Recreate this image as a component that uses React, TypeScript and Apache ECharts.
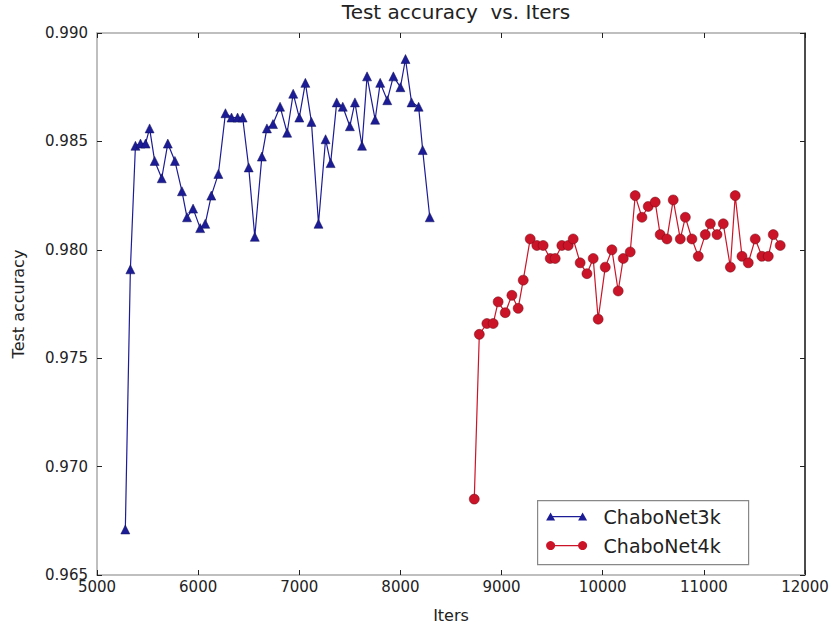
import React, { useEffect, useRef } from "react";
import * as echarts from "echarts";

const TITLE = "Test accuracy  vs. Iters";
const X_NAME = "Iters";
const Y_NAME = "Test accuracy";
const SERIES_NAMES = ["ChaboNet3k", "ChaboNet4k"];

// ChaboNet3k
const blueIters = [
  5280, 5330, 5380, 5430, 5480, 5520, 5570, 5640, 5700, 5770,
  5840, 5890, 5950, 6020, 6070, 6130, 6200, 6270, 6330, 6390,
  6440, 6500, 6560, 6630, 6680, 6740, 6810, 6880, 6940, 7000,
  7060, 7120, 7190, 7260, 7310, 7370, 7430, 7500, 7550, 7620,
  7670, 7750, 7800, 7870, 7930, 8000, 8050, 8110, 8180, 8220,
  8290,
];
const blueAcc = [
  0.9671, 0.9791, 0.9848, 0.9849, 0.9849, 0.9856, 0.9841, 0.9833, 0.9849, 0.9841,
  0.9827, 0.9815, 0.9819, 0.981, 0.9812, 0.9825, 0.9835, 0.9863, 0.9861, 0.9861,
  0.9861, 0.9838, 0.9806, 0.9843, 0.9856, 0.9858, 0.9866, 0.9854, 0.9872, 0.9861,
  0.9877, 0.9859, 0.9812, 0.9851, 0.984, 0.9868, 0.9866, 0.9857, 0.9868, 0.9848,
  0.988, 0.986, 0.9877, 0.9869, 0.988, 0.9875, 0.9888, 0.9868, 0.9866, 0.9846,
  0.9815,
];

// ChaboNet4k
const redIters = [
  8730, 8780, 8855, 8917, 8966, 9036, 9102, 9164, 9214, 9283,
  9349, 9411, 9481, 9530, 9596, 9659, 9708, 9777, 9844, 9906,
  9955, 10025, 10091, 10153, 10203, 10272, 10321, 10388, 10450, 10519,
  10568, 10635, 10697, 10767, 10817, 10882, 10945, 11014, 11064, 11130,
  11192, 11262, 11310, 11377, 11439, 11508, 11574, 11637, 11686, 11755,
];
const redAcc = [
  0.9685, 0.9761, 0.9766, 0.9766, 0.9776, 0.9771, 0.9779, 0.9773, 0.9786, 0.9805,
  0.9802, 0.9802, 0.9796, 0.9796, 0.9802, 0.9802, 0.9805, 0.9794, 0.9789, 0.9796,
  0.9768, 0.9792, 0.98, 0.9781, 0.9796, 0.9799, 0.9825, 0.9815, 0.982, 0.9822,
  0.9807, 0.9805, 0.9823, 0.9805, 0.9815, 0.9805, 0.9797, 0.9807, 0.9812, 0.9807,
  0.9812, 0.9792, 0.9825, 0.9797, 0.9794, 0.9805, 0.9797, 0.9797, 0.9807, 0.9802,
];

const X_MIN = 5000;
const X_MAX = 12000;
const X_STEP = 1000;
const Y_MIN = 0.965;
const Y_MAX = 0.99;
const Y_STEP = 0.005;

const BLUE = "#1c1c96";
const RED = "#cc1428";
const FONT = "DejaVu Sans";

export default function App() {
  const ref = useRef<HTMLDivElement>(null);

  useEffect(() => {
    document.body.style.margin = "0";
    if (!ref.current) return;
    const chart = echarts.init(ref.current, undefined, { renderer: "svg" });

    const tickCommon = { show: true, inside: true, length: 5, lineStyle: { color: "#222", width: 1 } };

    const option: any = {
      animation: false,
      backgroundColor: "#fff",
      title: {
        text: TITLE,
        left: 451,
        textAlign: "center",
        top: -3,
        textStyle: { fontFamily: FONT, fontSize: 20, fontWeight: "normal", color: "#222" },
      },
      grid: { left: 97, right: 29, top: 33, bottom: 50, containLabel: false },
      xAxis: [
        {
          type: "value",
          min: X_MIN,
          max: X_MAX,
          interval: X_STEP,
          name: X_NAME,
          nameLocation: "middle",
          nameGap: 32,
          nameTextStyle: { fontFamily: FONT, fontSize: 16, color: "#222" },
          axisLine: { show: true, onZero: false, lineStyle: { color: "#aaa", width: 1.5 } },
          axisTick: tickCommon,
          axisLabel: {
            fontFamily: FONT,
            fontSize: 15,
            color: "#222",
            margin: 4,
            formatter: (v: number) => String(Math.round(v)),
          },
          splitLine: { show: false },
        },
        {
          type: "value",
          position: "top",
          min: X_MIN,
          max: X_MAX,
          interval: X_STEP,
          axisLine: { show: true, onZero: false, lineStyle: { color: "#aaa", width: 1.5 } },
          axisTick: tickCommon,
          axisLabel: { show: false },
          splitLine: { show: false },
        },
      ],
      yAxis: [
        {
          type: "value",
          min: Y_MIN,
          max: Y_MAX,
          interval: Y_STEP,
          name: Y_NAME,
          nameLocation: "middle",
          nameGap: 71,
          nameTextStyle: { fontFamily: FONT, fontSize: 16, color: "#222" },
          axisLine: { show: true, onZero: false, lineStyle: { color: "#aaa", width: 1.5 } },
          axisTick: tickCommon,
          axisLabel: {
            fontFamily: FONT,
            fontSize: 15,
            color: "#222",
            margin: 9,
            formatter: (v: number) => v.toFixed(3),
          },
          splitLine: { show: false },
        },
        {
          type: "value",
          position: "right",
          min: Y_MIN,
          max: Y_MAX,
          interval: Y_STEP,
          axisLine: { show: true, onZero: false, lineStyle: { color: "#111", width: 1.5 } },
          axisTick: tickCommon,
          axisLabel: { show: false },
          splitLine: { show: false },
        },
      ],
      series: [
        {
          name: SERIES_NAMES[0],
          type: "line",
          xAxisIndex: 0,
          yAxisIndex: 0,
          data: blueIters.map((x, i) => [x, blueAcc[i]]),
          symbol: "triangle",
          symbolSize: 9,
          showAllSymbol: true,
          lineStyle: { color: BLUE, width: 1.2 },
          itemStyle: { color: BLUE, borderColor: "#10105a", borderWidth: 0.5 },
        },
        {
          name: SERIES_NAMES[1],
          type: "line",
          xAxisIndex: 0,
          yAxisIndex: 0,
          data: redIters.map((x, i) => [x, redAcc[i]]),
          symbol: "circle",
          symbolSize: 10,
          showAllSymbol: true,
          lineStyle: { color: RED, width: 1.2 },
          itemStyle: { color: RED, borderColor: "#6a0a14", borderWidth: 0.5 },
        },
      ],
      graphic: [
        {
          type: "group",
          left: 537,
          top: 500,
          children: [
            {
              type: "rect",
              shape: { x: 0, y: 0, width: 211, height: 64 },
              style: { fill: "#fff", stroke: "#888", lineWidth: 1.2 },
            },
            { type: "line", shape: { x1: 13, y1: 16, x2: 45, y2: 16 }, style: { stroke: BLUE, lineWidth: 1.2 } },
            { type: "polygon", shape: { points: [[13, 12], [17.5, 20], [8.5, 20]] }, style: { fill: BLUE } },
            { type: "polygon", shape: { points: [[45, 12], [49.5, 20], [40.5, 20]] }, style: { fill: BLUE } },
            {
              type: "text",
              style: { x: 66, y: 16, text: SERIES_NAMES[0], fill: "#222", font: `19px '${FONT}'`, verticalAlign: "middle" },
            },
            { type: "line", shape: { x1: 13, y1: 45, x2: 45, y2: 45 }, style: { stroke: RED, lineWidth: 1.2 } },
            { type: "circle", shape: { cx: 13, cy: 45, r: 4.5 }, style: { fill: RED } },
            { type: "circle", shape: { cx: 45, cy: 45, r: 4.5 }, style: { fill: RED } },
            {
              type: "text",
              style: { x: 66, y: 45, text: SERIES_NAMES[1], fill: "#222", font: `19px '${FONT}'`, verticalAlign: "middle" },
            },
          ],
        },
      ],
    };

    chart.setOption(option);
    return () => chart.dispose();
  }, []);

  return <div ref={ref} style={{ width: 834, height: 628 }} />;
}
